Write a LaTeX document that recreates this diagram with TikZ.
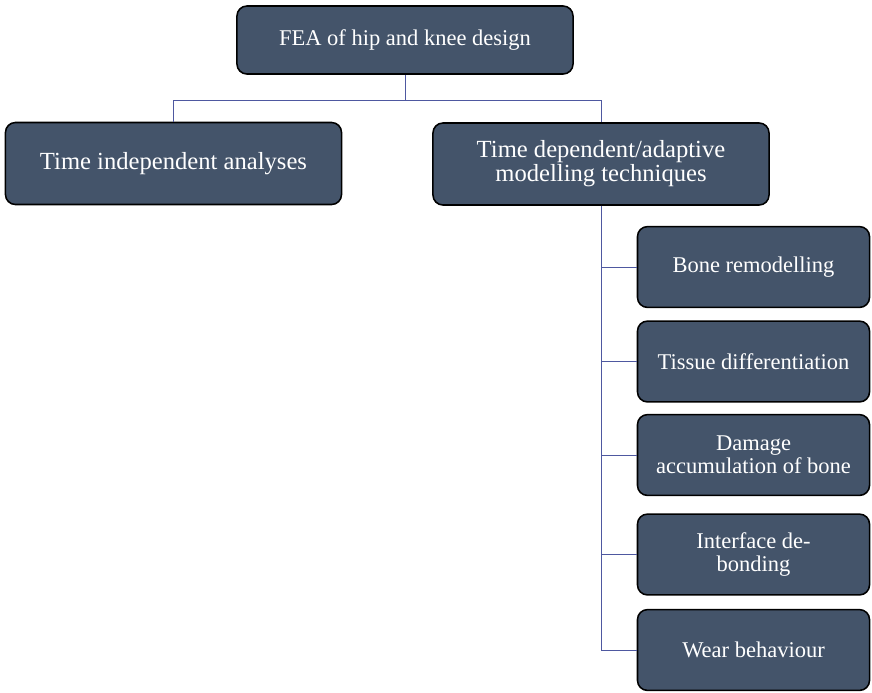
\documentclass[tikz,border=0pt]{standalone}
\usepackage{fontspec}
\setmainfont{Liberation Serif}
\usepackage{tikz}
\usetikzlibrary{positioning}
\usepackage{xcolor}
\definecolor{boxfill}{RGB}{68,84,106}
\definecolor{linkblue}{RGB}{78,88,160}

\begin{document}
\begin{tikzpicture}[
        x=0.025cm, y=-0.025cm,
        box/.style={rectangle, rounded corners=0.25cm, draw=black, line width=1.1pt,
                   fill=boxfill, text=white, align=center, inner sep=2pt},
        topbox/.style={box, minimum width=8.4cm, minimum height=1.7cm,
                   font=\fontsize{16}{17}\selectfont},
        bigbox/.style={box, minimum width=8.4cm, minimum height=2.05cm,
                   font=\fontsize{17.5}{17}\selectfont},
        subbox/.style={box, minimum width=5.8cm, minimum height=2.02cm,
                   font=\fontsize{16}{16.5}\selectfont},
        link/.style={draw=linkblue, line width=0.7pt}
    ]
    \useasboundingbox (0,0) rectangle (872,692);

    \node[topbox] (fea) at (405,40) {FEA of hip and knee design};
    \node[bigbox] (tia) at (173.5,163.5) {Time independent analyses};
    \node[bigbox] (tdm) at (601,164) {Time dependent/adaptive\\modelling techniques};

    \node[subbox] (bone)   at (753.5,267)   {Bone remodelling};
    \node[subbox] (tissue) at (753.5,361.5) {Tissue differentiation};
    \node[subbox] (damage) at (753.5,455)   {Damage\\accumulation of bone};
    \node[subbox] (iface)  at (753.5,554.5) {Interface de-\\bonding};
    \node[subbox] (wear)   at (753.5,650)   {Wear behaviour};

    \draw[link] (fea.south) -- ++(0,26) coordinate (split);
    \draw[link] (split) -| (tia.north);
    \draw[link] (split) -| (tdm.north);

    \foreach \n in {bone,tissue,damage,iface,wear}
        \draw[link] (tdm.south) |- (\n.west);

\end{tikzpicture}
\end{document}
